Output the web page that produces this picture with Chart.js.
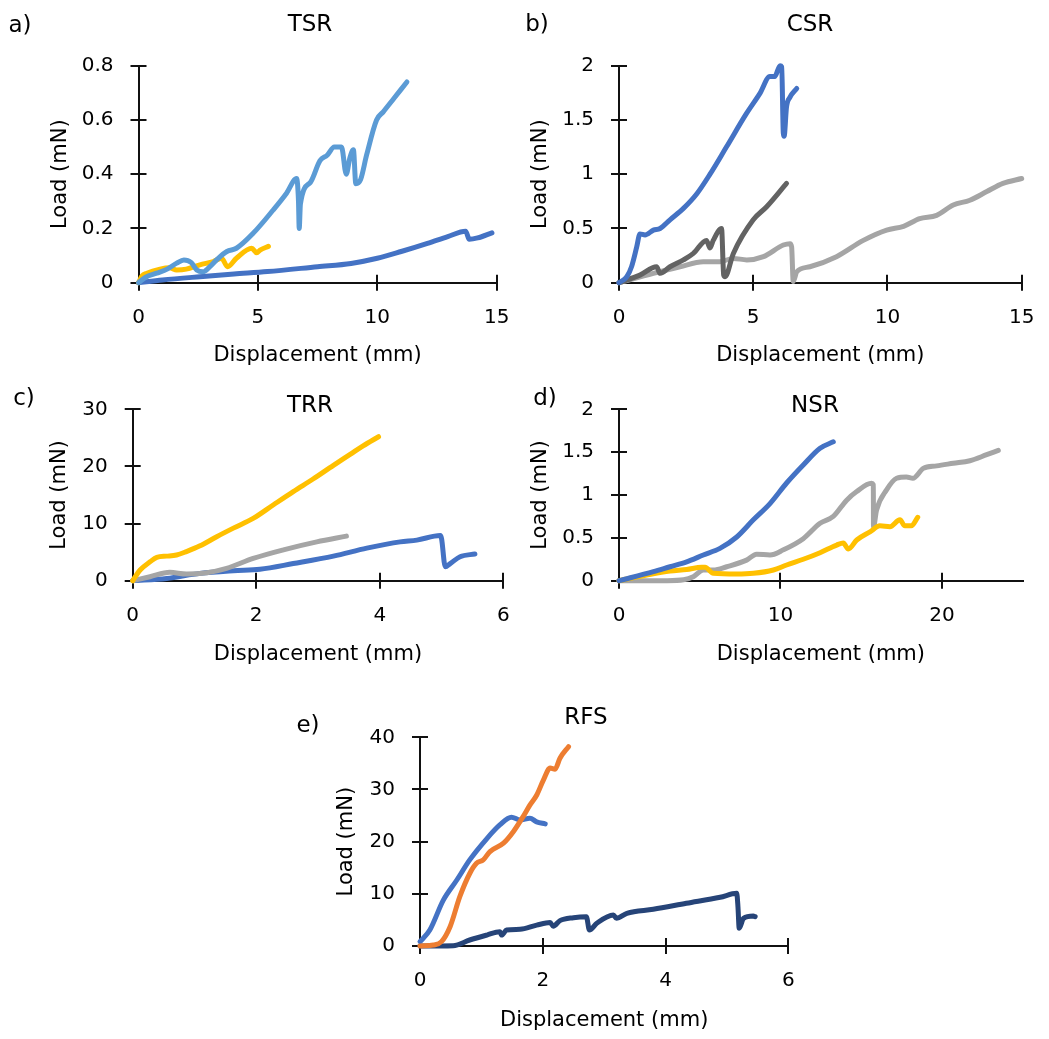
<!DOCTYPE html>
<html><head><meta charset="utf-8">
<script src="https://cdn.jsdelivr.net/npm/chart.js@4.4.1/dist/chart.umd.min.js"></script>
<style>
html,body{margin:0;padding:0;background:#fff;}
body{width:1049px;height:1039px;position:relative;overflow:hidden;font-family:"DejaVu Sans",sans-serif;}
canvas{position:absolute;}
.lbl{position:absolute;transform:translate(-50%,-50%);font-size:23px;color:#000;white-space:nowrap;line-height:1;font-family:"DejaVu Sans",sans-serif;}
</style></head><body>
<canvas id="cA" width="520" height="375" style="left:0px;top:0px"></canvas>
<canvas id="cB" width="529" height="375" style="left:520px;top:0px"></canvas>
<canvas id="cC" width="520" height="300" style="left:0px;top:375px"></canvas>
<canvas id="cD" width="529" height="300" style="left:520px;top:375px"></canvas>
<canvas id="cE" width="520" height="349" style="left:300px;top:690px"></canvas>
<script>
// ---------- DATA ----------
const panelTitles = ['TSR', 'CSR', 'TRR', 'NSR', 'RFS'];
const panelLetters = ['a)', 'b)', 'c)', 'd)', 'e)'];
const xAxisTitle = 'Displacement (mm)';
const yAxisTitle = 'Load (mN)';

// a) TSR
const tsrLightX = [0, 0.3, 0.76, 1.2, 1.6, 1.9, 2.2, 2.44, 2.7, 3.0, 3.27, 3.7, 4.1, 4.8, 5.64, 6.2, 6.62, 6.7, 6.73, 6.78, 7.2, 7.6, 7.9, 8.2, 8.5, 8.7, 8.85, 9.0, 9.1, 9.3, 9.55, 9.97, 10.25, 10.7, 11.24];
const tsrLightY = [0, 0.02, 0.035, 0.05, 0.072, 0.084, 0.075, 0.047, 0.04, 0.06, 0.084, 0.115, 0.127, 0.182, 0.268, 0.33, 0.384, 0.3, 0.2, 0.29, 0.37, 0.45, 0.47, 0.5, 0.5, 0.4, 0.46, 0.49, 0.365, 0.38, 0.47, 0.6, 0.63, 0.68, 0.74];
const tsrYellowX = [0, 0.15, 0.35, 0.9, 1.3, 1.6, 2.0, 2.57, 3.13, 3.48, 3.73, 4.1, 4.74, 4.95, 5.09, 5.44];
const tsrYellowY = [0, 0.025, 0.035, 0.05, 0.055, 0.047, 0.05, 0.066, 0.078, 0.09, 0.059, 0.09, 0.127, 0.11, 0.12, 0.134];
const tsrDarkX = [0, 1, 2.57, 4, 5.4, 7.5, 8.9, 10.0, 11.0, 12.1, 12.95, 13.7, 13.85, 14.2, 14.8];
const tsrDarkY = [0, 0.01, 0.022, 0.032, 0.041, 0.059, 0.071, 0.09, 0.115, 0.145, 0.17, 0.19, 0.16, 0.165, 0.184];

// b) CSR
const csrBlueX = [0, 0.29, 0.47, 0.66, 0.78, 0.97, 1.28, 1.53, 1.9, 2.4, 2.9, 3.39, 4.0, 4.75, 5.25, 5.62, 5.8, 6.0, 6.06, 6.12, 6.15, 6.24, 6.37, 6.62];
const csrBlueY = [0, 0.055, 0.15, 0.33, 0.45, 0.44, 0.485, 0.5, 0.58, 0.685, 0.82, 1.0, 1.25, 1.56, 1.745, 1.9, 1.9, 2.0, 1.99, 1.38, 1.35, 1.62, 1.71, 1.79];
const csrDarkX = [0, 0.78, 1.4, 1.53, 1.9, 2.4, 2.77, 3.26, 3.39, 3.51, 3.82, 3.9, 3.95, 4.26, 5.0, 5.5, 6.24];
const csrDarkY = [0, 0.07, 0.147, 0.086, 0.147, 0.21, 0.27, 0.39, 0.32, 0.39, 0.5, 0.07, 0.055, 0.27, 0.58, 0.7, 0.915];
const csrLightX = [0, 1.28, 2.27, 3.14, 3.76, 4.26, 4.76, 5.38, 6.12, 6.37, 6.43, 6.49, 6.62, 7.11, 8.1, 9.1, 9.97, 10.6, 11.2, 11.83, 12.45, 13.07, 13.7, 14.3, 15.0];
const csrLightY = [0, 0.086, 0.147, 0.194, 0.194, 0.224, 0.21, 0.24, 0.347, 0.36, 0.33, 0.01, 0.1, 0.147, 0.24, 0.39, 0.485, 0.52, 0.59, 0.62, 0.716, 0.76, 0.84, 0.915, 0.96];

// c) TRR
const trrYellowX = [0, 0.12, 0.28, 0.39, 0.55, 0.71, 0.87, 1.09, 1.36, 1.63, 1.95, 2.28, 2.6, 2.92, 3.25, 3.52, 3.73, 3.98];
const trrYellowY = [0, 1.87, 3.3, 4.1, 4.3, 4.5, 5.1, 6.1, 7.7, 9.2, 10.9, 13.3, 15.6, 17.8, 20.2, 22.1, 23.6, 25.2];
const trrGrayX = [0, 0.28, 0.6, 0.87, 1.2, 1.52, 1.95, 2.44, 2.98, 3.46];
const trrGrayY = [0, 0.7, 1.46, 1.17, 1.4, 2.16, 3.9, 5.4, 6.8, 7.8];
const trrBlueX = [0, 0.55, 1.09, 1.63, 2.06, 2.6, 3.25, 3.79, 4.33, 4.6, 4.98, 5.0, 5.06, 5.14, 5.3, 5.54];
const trrBlueY = [0, 0.4, 1.28, 1.75, 2.0, 3.0, 4.3, 5.7, 6.8, 7.1, 7.9, 7.4, 2.45, 3.0, 4.2, 4.67];

// d) NSR
const nsrBlueX = [0, 2.13, 3.16, 4.19, 5.22, 6.25, 7.29, 8.32, 9.35, 10.38, 11.41, 12.45, 13.27];
const nsrBlueY = [0, 0.105, 0.163, 0.22, 0.3, 0.377, 0.51, 0.71, 0.9, 1.14, 1.35, 1.545, 1.62];
const nsrGrayX = [0, 3.0, 4.0, 4.6, 5.22, 5.84, 6.67, 7.9, 8.52, 9.35, 10.18, 11.41, 12.45, 13.27, 14.1, 14.72, 15.64, 15.75, 15.76, 15.95, 16.57, 17.19, 17.8, 18.2, 18.84, 19.67, 20.7, 21.73, 22.77, 23.49];
const nsrGrayY = [0, 0, 0.01, 0.047, 0.125, 0.125, 0.163, 0.24, 0.31, 0.3, 0.36, 0.49, 0.67, 0.75, 0.94, 1.04, 1.136, 1.12, 0.63, 0.825, 1.06, 1.195, 1.21, 1.195, 1.31, 1.34, 1.37, 1.4, 1.47, 1.52];
const nsrYellowX = [0, 1.71, 3.16, 4.19, 5.12, 5.33, 5.84, 7.29, 8.32, 9.56, 10.38, 11.41, 12.45, 13.48, 13.89, 14.2, 14.72, 15.54, 16.16, 16.78, 17.4, 17.7, 18.1, 18.5];
const nsrYellowY = [0, 0.066, 0.113, 0.13, 0.156, 0.156, 0.086, 0.078, 0.086, 0.125, 0.183, 0.25, 0.327, 0.416, 0.44, 0.37, 0.475, 0.57, 0.64, 0.63, 0.71, 0.64, 0.64, 0.74];

// e) RFS
const rfsBlueX = [0, 0.16, 0.38, 0.6, 0.81, 1.09, 1.3, 1.49, 1.63, 1.79, 1.9, 2.04];
const rfsBlueY = [0.83, 3.07, 8.8, 12.65, 16.5, 20.6, 23.2, 24.7, 24.15, 24.5, 23.8, 23.4];
const rfsOrangeX = [0, 0.22, 0.35, 0.49, 0.65, 0.81, 0.92, 1.03, 1.14, 1.36, 1.52, 1.68, 1.79, 1.9, 2.01, 2.12, 2.2, 2.28, 2.42];
const rfsOrangeY = [0, 0.2, 0.83, 3.7, 9.5, 13.9, 15.85, 16.5, 18.1, 19.7, 21.9, 24.8, 27.0, 28.9, 31.8, 34.1, 33.9, 36.0, 38.2];
const rfsNavyX = [0, 0.54, 0.81, 1.09, 1.3, 1.33, 1.41, 1.63, 1.9, 2.12, 2.17, 2.28, 2.5, 2.71, 2.76, 2.88, 3.15, 3.2, 3.37, 3.8, 4.34, 4.89, 5.16, 5.18, 5.2, 5.27, 5.43, 5.46];
const rfsNavyY = [0, 0.06, 1.15, 2.1, 2.75, 2.1, 3.07, 3.2, 4.0, 4.5, 3.8, 4.86, 5.43, 5.62, 3.07, 4.35, 5.94, 5.3, 6.26, 7.03, 8.18, 9.33, 10.1, 7.5, 3.4, 5.3, 5.75, 5.62];

// axis ranges
const xMaxes = [15, 15, 6, 25, 6];
const xSteps = [5, 5, 2, 10, 2];
const yMaxes = [0.8, 2, 30, 2, 40];
const ySteps = [0.2, 0.5, 10, 0.5, 10];

// ---------- STYLE ----------
const C = {blue:'#4472C4', light:'#5B9BD5', yellow:'#FFC000', gray:'#A5A5A5', dark:'#636363', orange:'#ED7D31', navy:'#264478'};
const FONT = '"DejaVu Sans", sans-serif';
const AXIS_COLOR = '#111';
const AXIS_W = 2;
const TICK = 8;

function pts(xs, ys){ return xs.map((x,i)=>({x, y: ys[i]})); }
function ds(xs, ys, color, order){
  return {data: pts(xs, ys), borderColor: color, backgroundColor: color, showLine: true, pointRadius: 0,
    borderWidth: 5, cubicInterpolationMode: 'monotone', order, clip: false, borderJoinStyle: 'round', borderCapStyle: 'round'};
}

const layouts = [
  {id:'cA', box:[0,0,520,375], plot:[138.5,65.7,496.7,282.7], yTitleX:61, xTitleY:356, titlePos:[310,23], letterPos:[20,24]},
  {id:'cB', box:[520,0,529,375], plot:[619,65.7,1021.7,282.7], yTitleX:541, xTitleY:356, titlePos:[810,23], letterPos:[537,23]},
  {id:'cC', box:[0,375,520,300], plot:[132.7,409.3,503.3,580.7], yTitleX:60, xTitleY:655, titlePos:[310,404], letterPos:[24,397]},
  {id:'cD', box:[520,375,529,300], plot:[619,409.3,1022.7,580.7], yTitleX:541, xTitleY:655, titlePos:[815,404], letterPos:[545,397]},
  {id:'cE', box:[300,690,520,349], plot:[420,737.3,788.3,946], yTitleX:347, xTitleY:1021, titlePos:[586,716], letterPos:[308,724]}
];

const seriesSets = [
  [ds(tsrLightX, tsrLightY, C.light, 0), ds(tsrYellowX, tsrYellowY, C.yellow, 1), ds(tsrDarkX, tsrDarkY, C.blue, 2)],
  [ds(csrBlueX, csrBlueY, C.blue, 0), ds(csrDarkX, csrDarkY, C.dark, 1), ds(csrLightX, csrLightY, C.gray, 2)],
  [ds(trrYellowX, trrYellowY, C.yellow, 0), ds(trrGrayX, trrGrayY, C.gray, 1), ds(trrBlueX, trrBlueY, C.blue, 2)],
  [ds(nsrBlueX, nsrBlueY, C.blue, 0), ds(nsrYellowX, nsrYellowY, C.yellow, 1), ds(nsrGrayX, nsrGrayY, C.gray, 2)],
  [ds(rfsOrangeX, rfsOrangeY, C.orange, 0), ds(rfsBlueX, rfsBlueY, C.blue, 1), ds(rfsNavyX, rfsNavyY, C.navy, 2)]
];

const crossTicks = {
  id: 'crossTicks',
  beforeDatasetsDraw(chart){
    const {ctx, chartArea: a, scales: {x, y}} = chart;
    ctx.save();
    ctx.strokeStyle = AXIS_COLOR; ctx.lineWidth = AXIS_W;
    ctx.beginPath();
    x.ticks.forEach(t => { const px = Math.round(x.getPixelForValue(t.value)); ctx.moveTo(px, a.bottom); ctx.lineTo(px, a.bottom - TICK); });
    y.ticks.forEach(t => { const py = Math.round(y.getPixelForValue(t.value)); ctx.moveTo(a.left, py); ctx.lineTo(a.left + TICK, py); });
    ctx.stroke();
    ctx.restore();
  }
};

const fmt = v => String(Number(Number(v).toFixed(3)));

layouts.forEach((L, i) => {
  const [bl, bt, bw, bh] = L.box;
  const [pl, pt, pr, pb] = L.plot;
  const yW = pl - bl, xH = bt + bh - pb;
  const cfg = {
    type: 'scatter',
    data: {datasets: seriesSets[i]},
    options: {
      responsive: false, animation: false, devicePixelRatio: 1,
      layout: {padding: {left: 0, top: pt - bt, right: bl + bw - pr, bottom: 0}},
      plugins: {legend: {display: false}, tooltip: {enabled: false}, title: {display: false}},
      scales: {
        x: {
          type: 'linear', position: 'bottom', min: 0, max: xMaxes[i],
          ticks: {stepSize: xSteps[i], includeBounds: false, color: '#000', padding: 17, maxRotation: 0,
                  font: {family: FONT, size: 20, lineHeight: 1}, callback: fmt},
          grid: {display: true, drawOnChartArea: false, drawTicks: true, tickLength: TICK, color: AXIS_COLOR, lineWidth: AXIS_W},
          border: {display: true, color: AXIS_COLOR, width: AXIS_W},
          title: {display: true, text: xAxisTitle, color: '#000', font: {family: FONT, size: 21, lineHeight: 1},
                  padding: {top: 0, bottom: bt + bh - L.xTitleY - 10.5}},
          afterFit(s){ s.height = xH; s.paddingLeft = 0; s.paddingRight = 0; }
        },
        y: {
          type: 'linear', position: 'left', min: 0, max: yMaxes[i],
          ticks: {stepSize: ySteps[i], includeBounds: false, color: '#000', padding: 17,
                  font: {family: FONT, size: 20, lineHeight: 1}, callback: fmt},
          grid: {display: true, drawOnChartArea: false, drawTicks: true, tickLength: TICK, color: AXIS_COLOR, lineWidth: AXIS_W},
          border: {display: true, color: AXIS_COLOR, width: AXIS_W},
          title: {display: true, text: yAxisTitle, color: '#000', font: {family: FONT, size: 21, lineHeight: 1},
                  padding: {top: L.yTitleX - bl - 10.5, bottom: 0}},
          afterFit(s){ s.width = yW; s.paddingTop = 0; s.paddingBottom = 0; }
        }
      }
    },
    plugins: [crossTicks]
  };
  new Chart(document.getElementById(L.id), cfg);

  const t = document.createElement('div');
  t.className = 'lbl'; t.textContent = panelTitles[i];
  t.style.left = L.titlePos[0] + 'px'; t.style.top = L.titlePos[1] + 'px';
  document.body.appendChild(t);
  const l = document.createElement('div');
  l.className = 'lbl'; l.textContent = panelLetters[i];
  l.style.left = L.letterPos[0] + 'px'; l.style.top = L.letterPos[1] + 'px';
  document.body.appendChild(l);
});
</script>
</body></html>
